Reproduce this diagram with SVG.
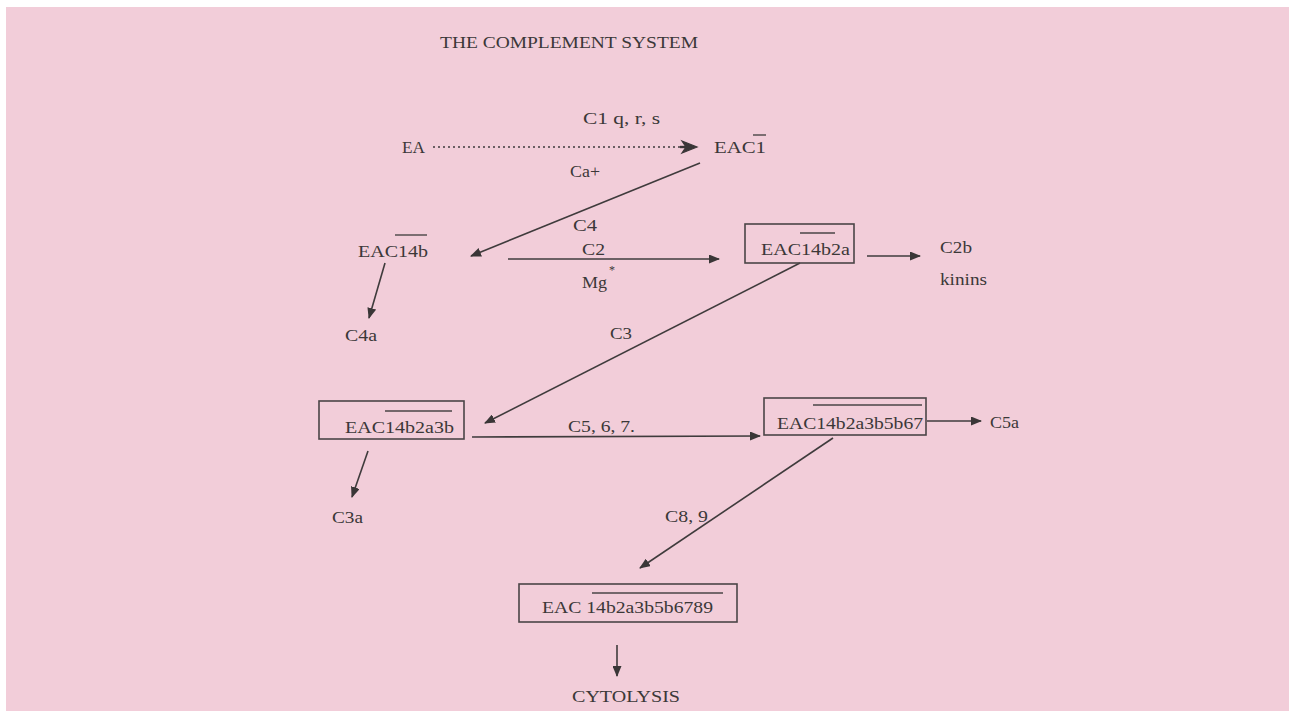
<svg xmlns="http://www.w3.org/2000/svg" width="1289" height="711" viewBox="0 0 1289 711">
<style>
text{font-family:"Liberation Serif","Times New Roman",serif;font-size:17px;fill:#3b3838}
.t{font-size:16px}
.ln{stroke:#3f3b3c;stroke-width:1.6;fill:none}
.box{stroke:#4a4546;stroke-width:1.6;fill:none}
.ov{stroke:#4a4546;stroke-width:1.4}
</style>
<defs>
<marker id="ah" markerUnits="userSpaceOnUse" markerWidth="11" markerHeight="9" refX="10" refY="4.5" orient="auto">
<path d="M0,0 L11,4.5 L0,9 z" fill="#3a3637"/>
</marker>
</defs>
<rect x="0" y="0" width="1289" height="711" fill="#ffffff"/>
<rect x="6" y="7" width="1283" height="704" fill="#f2cdd9"/>
<text class="t" x="440" y="48" textLength="258" lengthAdjust="spacingAndGlyphs">THE COMPLEMENT SYSTEM</text>
<g id="connectors">
<line class="ln" x1="433" y1="147" x2="684" y2="147" stroke-dasharray="2,3"/>
<path d="M682,141 L697,147 L682,153 L686,147 z" fill="#3a3637" stroke="#3a3637" stroke-width="1.2"/>
<line stroke="#3a3637" stroke-width="2.4" x1="680" y1="147" x2="690" y2="147"/>
<line class="ln" x1="700" y1="163" x2="471" y2="256" marker-end="url(#ah)"/>
<line class="ln" x1="508" y1="259" x2="719" y2="259" marker-end="url(#ah)"/>
<line class="ln" x1="385" y1="263" x2="369" y2="318" marker-end="url(#ah)"/>
<line class="ln" x1="867" y1="256" x2="920" y2="256" marker-end="url(#ah)"/>
<line class="ln" x1="800" y1="263" x2="485" y2="423" marker-end="url(#ah)"/>
<line class="ln" x1="472" y1="437" x2="760" y2="436" marker-end="url(#ah)"/>
<line class="ln" x1="368" y1="451" x2="352" y2="497" marker-end="url(#ah)"/>
<line class="ln" x1="927" y1="421" x2="981" y2="421" marker-end="url(#ah)"/>
<line class="ln" x1="833" y1="438" x2="640" y2="568" marker-end="url(#ah)"/>
<line class="ln" x1="617" y1="645" x2="617" y2="676" marker-end="url(#ah)"/>
</g>
<g id="labels">
<text x="583" y="124" textLength="77" lengthAdjust="spacingAndGlyphs">C1 q, r, s</text>
<text x="570" y="177" textLength="30" lengthAdjust="spacingAndGlyphs">Ca+</text>
<text x="573" y="231" textLength="24" lengthAdjust="spacingAndGlyphs">C4</text>
<text x="582" y="255" textLength="23" lengthAdjust="spacingAndGlyphs">C2</text>
<text x="582" y="288" textLength="25" lengthAdjust="spacingAndGlyphs">Mg</text>
<text x="609" y="274" style="font-size:12px">*</text>
<text x="610" y="339" textLength="22" lengthAdjust="spacingAndGlyphs">C3</text>
<text x="568" y="432" textLength="67" lengthAdjust="spacingAndGlyphs">C5, 6, 7.</text>
<text x="665" y="522" textLength="43" lengthAdjust="spacingAndGlyphs">C8, 9</text>
</g>
<g id="EA"><text x="402" y="153" textLength="23" lengthAdjust="spacingAndGlyphs">EA</text></g>
<g id="EAC1">
<text x="714" y="153" textLength="52" lengthAdjust="spacingAndGlyphs">EAC1</text>
<line class="ov" x1="753" y1="135" x2="766" y2="135"/>
</g>
<g id="EAC14b">
<text x="358" y="257" textLength="70" lengthAdjust="spacingAndGlyphs">EAC14b</text>
<line class="ov" x1="395" y1="235" x2="427" y2="235"/>
</g>
<g id="C4a"><text x="345" y="341" textLength="32" lengthAdjust="spacingAndGlyphs">C4a</text></g>
<g id="EAC14b2a">
<rect class="box" x="745" y="224" width="109" height="39"/>
<text x="761" y="255" textLength="89" lengthAdjust="spacingAndGlyphs">EAC14b2a</text>
<line class="ov" x1="800" y1="233" x2="835" y2="233"/>
</g>
<g id="C2b">
<text x="940" y="253" textLength="32" lengthAdjust="spacingAndGlyphs">C2b</text>
<text x="940" y="285" textLength="47" lengthAdjust="spacingAndGlyphs">kinins</text>
</g>
<g id="EAC14b2a3b">
<rect class="box" x="319" y="401" width="145" height="38"/>
<text x="345" y="433" textLength="109" lengthAdjust="spacingAndGlyphs">EAC14b2a3b</text>
<line class="ov" x1="385" y1="411" x2="452" y2="411"/>
</g>
<g id="C3a"><text x="332" y="523" textLength="31" lengthAdjust="spacingAndGlyphs">C3a</text></g>
<g id="EAC14b2a3b5b67">
<rect class="box" x="764" y="398" width="162" height="37"/>
<text x="777" y="429" textLength="146" lengthAdjust="spacingAndGlyphs">EAC14b2a3b5b67</text>
<line class="ov" x1="813" y1="405" x2="922" y2="405"/>
</g>
<g id="C5a"><text x="990" y="428" textLength="29" lengthAdjust="spacingAndGlyphs">C5a</text></g>
<g id="EAC14b2a3b5b6789">
<rect class="box" x="519" y="584" width="218" height="38"/>
<text x="542" y="613" textLength="171" lengthAdjust="spacingAndGlyphs">EAC 14b2a3b5b6789</text>
<line class="ov" x1="592" y1="593" x2="723" y2="593"/>
</g>
<g id="CYTOLYSIS"><text x="572" y="702" textLength="108" lengthAdjust="spacingAndGlyphs">CYTOLYSIS</text></g>
</svg>
